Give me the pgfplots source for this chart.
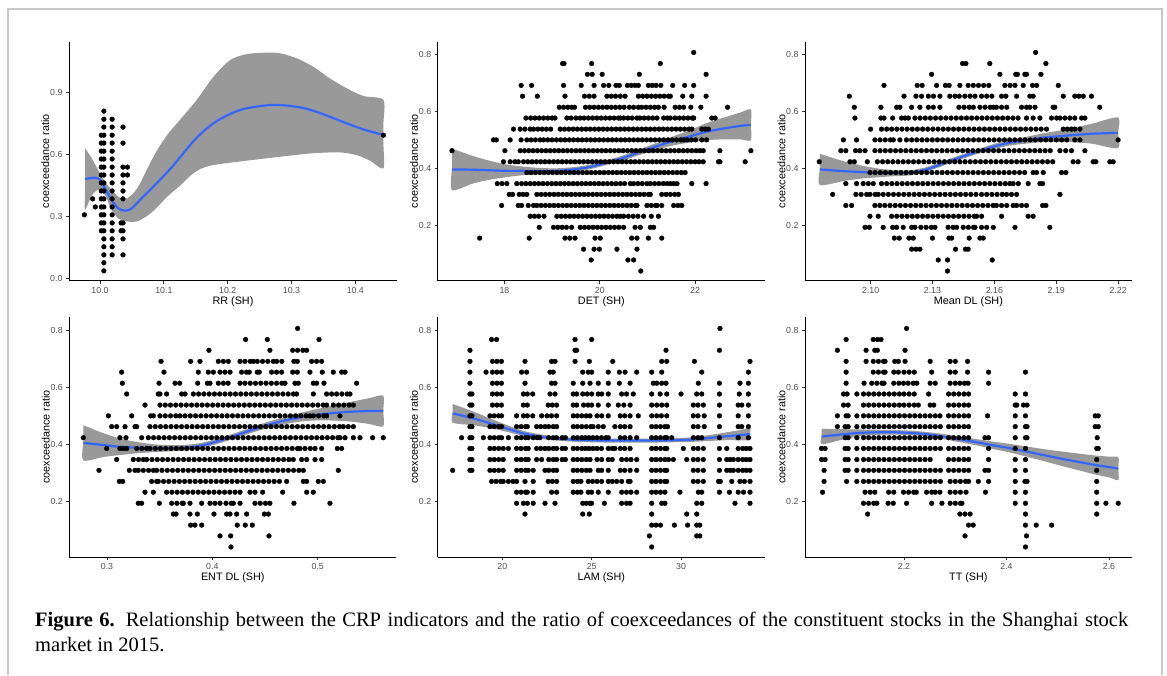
\documentclass[border=0pt]{standalone}
\usepackage{pgfplots}
\pgfplotsset{compat=1.18}
\usepackage{fontspec}
\setmainfont{Liberation Sans}
\newfontfamily\capfont{Liberation Serif}
\definecolor{smoothblue}{HTML}{3366FF}
\definecolor{bandgray}{RGB}{80,80,80}
\definecolor{framegray}{RGB}{200,200,200}
\definecolor{ticktext}{HTML}{4D4D4D}
\definecolor{tickline}{HTML}{333333}
\pgfplotsset{
  panel/.style={
    scale only axis, anchor=south west,
    axis lines*=left, tick pos=left,
    axis line style={line width=0.9pt, black},
    tick align=outside, major tick length=3pt,
    major tick style={line width=0.9pt, tickline},
    tick label style={font=\fontsize{8.8}{10}\selectfont, text=ticktext},
    label style={font=\fontsize{10.8}{12}\selectfont, text=black},
    ylabel={coexceedance ratio},
    ylabel style={at={(axis description cs:-0.072,0.5)}, anchor=center},
    xlabel style={at={(axis description cs:0.5,-0.088)}, anchor=center},
  },
  pts/.style={only marks, mark=*, mark size=2.4pt, black, mark options={line width=0.3pt}, forget plot},
  fit/.style={smoothblue, line width=2.2pt, smooth, no marks, forget plot},
  ciband/.style={fill=bandgray, fill opacity=0.583, draw=none, smooth, tension=0.45, no marks, forget plot},
}
\begin{document}
\begin{tikzpicture}
\path (0,0) rectangle (1167pt,675pt);
\draw[framegray, line width=2pt] (8pt,0pt) -- (8pt,666pt) -- (1162pt,666pt) -- (1162pt,0pt);

% ---------------- RR ----------------
\begin{axis}[panel, at={(69pt,394.3pt)}, width=328pt, height=239pt,
  xmin=9.9514, xmax=10.4653, ymin=-0.0096, ymax=1.1428,
  xtick={10.0,10.1,10.2,10.3,10.4}, xticklabels={10.0,10.1,10.2,10.3,10.4},
  ytick={0,0.3,0.6,0.9}, yticklabels={0.0,0.3,0.6,0.9},
  xlabel={RR (SH)}]
\addplot[pts] coordinates {(10.006,.038)(10.006,.077)(10.006,.115)(10.006,.154)(10.006,.192)(10.006,.231)(10.006,.269)(10.006,.308)(10.006,.346)(10.006,.385)(10.006,.423)(10.006,.462)(10.006,.500)(10.006,.538)(10.006,.577)(10.006,.615)(10.006,.654)(10.006,.692)(10.006,.731)(10.006,.769)(10.006,.808)};
\addplot[pts] coordinates {(10.002,.231)(10.002,.269)(10.002,.308)(10.002,.346)(10.002,.385)(10.002,.423)(10.002,.462)(10.002,.500)(10.002,.538)(10.002,.577)(10.002,.615)(10.002,.654)(10.002,.692)};
\addplot[pts] coordinates {(10.019,.115)(10.019,.154)(10.019,.192)(10.019,.231)(10.019,.269)(10.019,.308)(10.019,.346)(10.019,.385)(10.019,.423)(10.019,.462)(10.019,.500)(10.019,.538)(10.019,.577)(10.019,.615)(10.019,.654)(10.019,.692)(10.019,.731)(10.019,.769)};
\addplot[pts] coordinates {(10.036,.115)(10.036,.192)(10.036,.231)(10.036,.269)(10.036,.385)(10.036,.423)(10.036,.462)(10.036,.500)(10.036,.538)(10.036,.654)(10.036,.731)(10.033,.231)(10.033,.269)(10.043,.500)(10.043,.538)};
\addplot[pts] coordinates {(9.9755,.308)(9.9885,.385)(9.9927,.346)(10.444,.692)};
\addplot[ciband] coordinates {(9.9765,.629)(9.987,.581)(9.997,.524)(10.0078,.468)(10.018,.428)(10.029,.395)(10.039,.384)(10.0497,.404)(10.060,.444)(10.0705,.508)(10.081,.572)(10.0913,.629)(10.107,.70)(10.125,.765)(10.1515,.862)(10.1775,.973)(10.2037,1.054)(10.2298,1.083)(10.2612,1.090)(10.282,1.087)(10.308,1.063)(10.334,1.022)(10.360,.966)(10.3865,.918)(10.4125,.881)(10.444,.862)(10.444,.75)(10.444,.65)(10.444,.532)(10.423,.569)(10.402,.596)(10.376,.609)(10.334,.605)(10.282,.588)(10.2298,.569)(10.1775,.548)(10.1567,.528)(10.141,.495)(10.1253,.448)(10.1123,.415)(10.1018,.385)(10.0913,.350)(10.081,.320)(10.0705,.296)(10.060,.278)(10.0497,.274)(10.039,.278)(10.029,.290)(10.018,.331)(10.0078,.404)(9.997,.428)(9.987,.40)(9.9765,.333)(9.9765,.42)(9.9765,.53)};
\addplot[fit] coordinates {(9.9765,.481)(9.9922,.487)(10.0,.476)(10.0078,.436)(10.0183,.379)(10.0287,.339)(10.0392,.328)(10.0497,.339)(10.0653,.388)(10.0862,.452)(10.1123,.537)(10.1253,.585)(10.1515,.680)(10.1775,.749)(10.2037,.794)(10.2298,.822)(10.2715,.838)(10.308,.829)(10.334,.810)(10.360,.781)(10.3865,.749)(10.4125,.720)(10.444,.693)};
\end{axis}

% ---------------- DET ----------------
\begin{axis}[panel, at={(437.7pt,394.3pt)}, width=327.3pt, height=239pt,
  xmin=16.60, xmax=23.466, ymin=0.004, ymax=0.846,
  xtick={18,20,22}, xticklabels={18,20,22},
  ytick={0.2,0.4,0.6,0.8}, yticklabels={0.2,0.4,0.6,0.8},
  xlabel={DET (SH)}]
\addplot[pts] coordinates {(21.97,.808)};
\addplot[pts] coordinates {(19.22,.769)(19.25,.769)(19.83,.769)(21.27,.769)};
\addplot[pts] coordinates {(19.74,.731)(19.84,.731)(20.05,.731)(20.83,.731)(22.23,.731)};
\addplot[pts] coordinates {(18.35,.692)(18.57,.692)(19.24,.692)(19.61,.692)(19.88,.692)(20.08,.692)(20.19,.692)(20.34,.692)(20.41,.692)(20.58,.692)(20.66,.692)(20.74,.692)(20.81,.692)(21.02,.692)(21.1,.692)(21.18,.692)(21.28,.692)(21.53,.692)(21.78,.692)(21.97,.692)};
\addplot[pts] coordinates {(18.38,.654)(18.69,.654)(19.27,.654)(19.68,.654)(19.78,.654)(19.88,.654)(20.15,.654)(20.24,.654)(20.33,.654)(20.43,.654)(20.53,.654)(20.81,.654)(20.9,.654)(20.99,.654)(21.08,.654)(21.17,.654)(21.26,.654)(21.35,.654)(21.44,.654)(21.48,.654)(21.74,.654)(21.93,.654)(22.23,.654)};
\addplot[pts] coordinates {(19.15,.615)(19.24,.615)(19.33,.615)(19.41,.615)(19.47,.615)(19.7,.615)(19.79,.615)(19.88,.615)(19.97,.615)(20.06,.615)(20.15,.615)(20.24,.615)(20.33,.615)(20.42,.615)(20.51,.615)(20.62,.615)(20.71,.615)(20.81,.615)(20.88,.615)(20.97,.615)(21.06,.615)(21.15,.615)(21.23,.615)(21.35,.615)(21.58,.615)(21.67,.615)(21.76,.615)(21.91,.615)(22.12,.615)(22.68,.615)};
\addplot[pts] coordinates {(18.45,.577)(18.55,.577)(18.64,.577)(18.73,.577)(18.82,.577)(18.91,.577)(19.0,.577)(19.06,.577)(19.31,.577)(19.4,.577)(19.5,.577)(19.59,.577)(19.67,.577)(19.76,.577)(19.85,.577)(19.94,.577)(20.03,.577)(20.12,.577)(20.21,.577)(20.3,.577)(20.39,.577)(20.43,.577)(20.5,.577)(20.59,.577)(20.68,.577)(20.78,.577)(20.84,.577)(20.93,.577)(21.02,.577)(21.11,.577)(21.2,.577)(21.34,.577)(21.42,.577)(21.48,.577)(21.58,.577)(21.67,.577)(21.76,.577)(21.85,.577)(21.94,.577)(21.97,.577)(22.35,.577)(22.42,.577)};
\addplot[pts] coordinates {(18.19,.538)(18.33,.538)(18.43,.538)(18.54,.538)(18.61,.538)(18.7,.538)(18.79,.538)(18.88,.538)(18.97,.538)(19.17,.538)(19.26,.538)(19.35,.538)(19.44,.538)(19.53,.538)(19.62,.538)(19.71,.538)(19.8,.538)(19.89,.538)(19.98,.538)(20.07,.538)(20.16,.538)(20.25,.538)(20.34,.538)(20.43,.538)(20.52,.538)(20.61,.538)(20.7,.538)(20.79,.538)(20.88,.538)(20.97,.538)(21.06,.538)(21.15,.538)(21.24,.538)(21.33,.538)(21.42,.538)(21.51,.538)(21.6,.538)(21.69,.538)(21.78,.538)(21.87,.538)(21.93,.538)(22.14,.538)(22.21,.538)(22.28,.538)};
\addplot[pts] coordinates {(17.77,.500)(17.83,.500)(18.12,.500)(18.35,.500)(18.47,.500)(18.56,.500)(18.65,.500)(18.75,.500)(18.82,.500)(18.91,.500)(19.0,.500)(19.09,.500)(19.18,.500)(19.27,.500)(19.36,.500)(19.45,.500)(19.54,.500)(19.63,.500)(19.72,.500)(19.81,.500)(19.9,.500)(19.99,.500)(20.08,.500)(20.17,.500)(20.26,.500)(20.35,.500)(20.44,.500)(20.53,.500)(20.62,.500)(20.71,.500)(20.8,.500)(20.89,.500)(20.98,.500)(21.07,.500)(21.16,.500)(21.25,.500)(21.34,.500)(21.43,.500)(21.52,.500)(21.61,.500)(21.7,.500)(21.76,.500)(21.83,.500)(21.92,.500)(22.01,.500)(22.14,.500)(22.24,.500)};
\addplot[pts] coordinates {(16.9,.462)(18.01,.462)(18.33,.462)(18.42,.462)(18.51,.462)(18.6,.462)(18.69,.462)(18.78,.462)(18.87,.462)(18.96,.462)(19.05,.462)(19.14,.462)(19.23,.462)(19.32,.462)(19.41,.462)(19.5,.462)(19.59,.462)(19.68,.462)(19.77,.462)(19.86,.462)(19.95,.462)(20.04,.462)(20.13,.462)(20.22,.462)(20.31,.462)(20.4,.462)(20.49,.462)(20.58,.462)(20.67,.462)(20.76,.462)(20.85,.462)(20.94,.462)(21.03,.462)(21.12,.462)(21.21,.462)(21.3,.462)(21.39,.462)(21.48,.462)(21.57,.462)(21.66,.462)(21.75,.462)(21.84,.462)(21.93,.462)(22.02,.462)(22.1,.462)(22.17,.462)(22.52,.462)(23.17,.462)};
\addplot[pts] coordinates {(17.98,.423)(18.12,.423)(18.22,.423)(18.29,.423)(18.40,.423)(18.49,.423)(18.58,.423)(18.67,.423)(18.76,.423)(18.85,.423)(18.94,.423)(19.03,.423)(19.12,.423)(19.21,.423)(19.30,.423)(19.39,.423)(19.48,.423)(19.57,.423)(19.66,.423)(19.75,.423)(19.84,.423)(19.93,.423)(20.02,.423)(20.11,.423)(20.20,.423)(20.29,.423)(20.38,.423)(20.47,.423)(20.56,.423)(20.65,.423)(20.74,.423)(20.83,.423)(20.92,.423)(21.01,.423)(21.10,.423)(21.19,.423)(21.28,.423)(21.37,.423)(21.46,.423)(21.55,.423)(21.64,.423)(21.73,.423)(21.82,.423)(21.91,.423)(22.0,.423)(22.08,.423)(22.17,.423)(22.49,.423)(22.52,.423)(23.05,.423)};
\addplot[pts] coordinates {(18.47,.385)(18.56,.385)(18.65,.385)(18.74,.385)(18.83,.385)(18.92,.385)(19.01,.385)(19.10,.385)(19.19,.385)(19.28,.385)(19.37,.385)(19.46,.385)(19.55,.385)(19.64,.385)(19.73,.385)(19.82,.385)(19.91,.385)(20.0,.385)(20.09,.385)(20.18,.385)(20.27,.385)(20.36,.385)(20.45,.385)(20.54,.385)(20.63,.385)(20.72,.385)(20.81,.385)(20.9,.385)(20.99,.385)(21.08,.385)(21.17,.385)(21.26,.385)(21.35,.385)(21.44,.385)(21.53,.385)(21.62,.385)(21.71,.385)(21.79,.385)};
\addplot[pts] coordinates {(17.85,.346)(17.95,.346)(18.05,.346)(18.26,.346)(18.36,.346)(18.45,.346)(18.54,.346)(18.63,.346)(18.72,.346)(18.81,.346)(18.9,.346)(18.99,.346)(19.08,.346)(19.17,.346)(19.26,.346)(19.35,.346)(19.44,.346)(19.53,.346)(19.62,.346)(19.71,.346)(19.8,.346)(19.89,.346)(19.98,.346)(20.07,.346)(20.16,.346)(20.25,.346)(20.34,.346)(20.43,.346)(20.52,.346)(20.64,.346)(20.71,.346)(20.8,.346)(20.89,.346)(20.99,.346)(21.06,.346)(21.15,.346)(21.24,.346)(21.33,.346)(21.41,.346)(21.48,.346)(21.55,.346)(21.62,.346)(21.93,.346)(22.23,.346)};
\addplot[pts] coordinates {(18.1,.308)(18.17,.308)(18.31,.308)(18.39,.308)(18.47,.308)(18.68,.308)(18.77,.308)(18.86,.308)(18.95,.308)(19.04,.308)(19.13,.308)(19.22,.308)(19.31,.308)(19.4,.308)(19.49,.308)(19.58,.308)(19.67,.308)(19.76,.308)(19.85,.308)(19.94,.308)(20.03,.308)(20.12,.308)(20.21,.308)(20.3,.308)(20.39,.308)(20.48,.308)(20.57,.308)(20.66,.308)(20.75,.308)(20.84,.308)(20.93,.308)(21.02,.308)(21.06,.308)(21.3,.308)(21.39,.308)(21.48,.308)(21.57,.308)(21.65,.308)};
\addplot[pts] coordinates {(17.94,.269)(18.29,.269)(18.36,.269)(18.5,.269)(18.61,.269)(18.68,.269)(18.77,.269)(18.86,.269)(18.95,.269)(19.04,.269)(19.13,.269)(19.22,.269)(19.31,.269)(19.4,.269)(19.49,.269)(19.58,.269)(19.67,.269)(19.76,.269)(19.85,.269)(19.94,.269)(20.03,.269)(20.12,.269)(20.21,.269)(20.3,.269)(20.39,.269)(20.48,.269)(20.57,.269)(20.66,.269)(20.75,.269)(20.78,.269)(20.99,.269)(21.08,.269)(21.17,.269)(21.2,.269)(21.3,.269)(21.55,.269)(21.64,.269)(21.72,.269)};
\addplot[pts] coordinates {(18.54,.231)(18.63,.231)(18.72,.231)(18.83,.231)(19.1,.231)(19.19,.231)(19.28,.231)(19.37,.231)(19.46,.231)(19.55,.231)(19.64,.231)(19.73,.231)(19.82,.231)(19.91,.231)(20.0,.231)(20.09,.231)(20.18,.231)(20.27,.231)(20.36,.231)(20.43,.231)(20.5,.231)(20.6,.231)(20.7,.231)(20.8,.231)(20.92,.231)(21.08,.231)(21.23,.231)};
\addplot[pts] coordinates {(18.73,.192)(19.03,.192)(19.12,.192)(19.21,.192)(19.3,.192)(19.41,.192)(19.59,.192)(19.68,.192)(19.77,.192)(19.86,.192)(19.95,.192)(20.04,.192)(20.13,.192)(20.22,.192)(20.31,.192)(20.4,.192)(20.5,.192)(20.74,.192)(20.85,.192)(21.06,.192)(21.13,.192)};
\addplot[pts] coordinates {(17.48,.154)(18.52,.154)(19.27,.154)(19.37,.154)(19.48,.154)(19.9,.154)(20.01,.154)(20.67,.154)(20.78,.154)(21.02,.154)(21.3,.154)};
\addplot[pts] coordinates {(19.66,.115)(19.88,.115)(19.99,.115)(20.36,.115)(20.78,.115)(19.82,.077)(20.59,.077)(20.71,.077)(20.86,.038)};
\addplot[ciband] coordinates {(16.9,.469)(17.35,.443)(17.7,.426)(18.05,.413)(18.4,.406)(18.75,.401)(19.1,.400)(19.45,.404)(19.8,.413)(20.15,.428)(20.5,.446)(20.85,.468)(21.2,.490)(21.55,.513)(21.9,.535)(22.24,.559)(22.59,.578)(22.94,.596)(23.17,.607)(23.17,.553)(23.17,.499)(22.94,.502)(22.59,.502)(22.24,.499)(21.9,.491)(21.55,.481)(21.2,.466)(20.85,.448)(20.5,.428)(20.15,.412)(19.8,.397)(19.45,.388)(19.1,.382)(18.75,.379)(18.4,.376)(18.05,.369)(17.7,.360)(17.35,.347)(16.9,.323)(16.9,.396)};
\addplot[fit] coordinates {(16.9,.396)(17.35,.395)(17.7,.393)(18.05,.391)(18.4,.391)(18.75,.390)(19.1,.391)(19.45,.396)(19.8,.405)(20.15,.420)(20.5,.437)(20.85,.458)(21.2,.478)(21.55,.497)(21.9,.513)(22.24,.529)(22.59,.540)(22.94,.549)(23.17,.553)};
\end{axis}

% ---------------- Mean DL ----------------
\begin{axis}[panel, at={(805pt,394.3pt)}, width=326.7pt, height=239pt,
  xmin=2.0682, xmax=2.2266, ymin=0.004, ymax=0.846,
  xtick={2.10,2.13,2.16,2.19,2.22}, xticklabels={2.10,2.13,2.16,2.19,2.22},
  ytick={0.2,0.4,0.6,0.8}, yticklabels={0.2,0.4,0.6,0.8},
  xlabel={Mean DL (SH)}]
\addplot[pts] coordinates {(2.18,.808)(2.1446,.769)(2.1462,.769)(2.1578,.769)(2.185,.769)};
\addplot[pts] coordinates {(2.1296,.731)(2.1627,.731)(2.1704,.731)(2.1712,.731)(2.1748,.731)(2.1756,.731)(2.1826,.731)};
\addplot[pts] coordinates {(2.1065,.692)(2.1226,.692)(2.125,.692)(2.132,.692)(2.1363,.692)(2.1381,.692)(2.1433,.692)(2.1473,.692)(2.1498,.692)(2.1523,.692)(2.1548,.692)(2.1573,.692)(2.1651,.692)(2.1676,.692)(2.17,.692)(2.174,.692)(2.1785,.692)(2.1805,.692)(2.191,.692)};
\addplot[pts] coordinates {(2.0897,.654)(2.1162,.654)(2.122,.654)(2.1247,.654)(2.128,.654)(2.1305,.654)(2.1336,.654)(2.1384,.654)(2.1409,.654)(2.143,.654)(2.1457,.654)(2.1482,.654)(2.1506,.654)(2.1538,.654)(2.1563,.654)(2.1588,.654)(2.1635,.654)(2.1656,.654)(2.1708,.654)(2.1772,.654)(2.1788,.654)(2.1934,.654)(2.199,.654)(2.201,.654)(2.2031,.654)(2.2071,.654)};
\addplot[pts] coordinates {(2.0921,.615)(2.105,.615)(2.1126,.615)(2.1142,.615)(2.1199,.615)(2.1239,.615)(2.128,.615)(2.1304,.615)(2.1336,.615)(2.1428,.615)(2.1453,.615)(2.1478,.615)(2.1498,.615)(2.153,.615)(2.1555,.615)(2.158,.615)(2.1595,.615)(2.161,.615)(2.1635,.615)(2.166,.615)(2.1732,.615)(2.1756,.615)(2.1772,.615)(2.1797,.615)(2.1885,.615)(2.1893,.615)(2.2111,.615)};
\addplot[pts] coordinates {(2.0924,.577)(2.105,.577)(2.1065,.577)(2.1107,.577)(2.115,.577)(2.1167,.577)(2.1183,.577)(2.1215,.577)(2.124,.577)(2.1265,.577)(2.129,.577)(2.1315,.577)(2.134,.577)(2.1365,.577)(2.139,.577)(2.1415,.577)(2.144,.577)(2.1465,.577)(2.149,.577)(2.1515,.577)(2.154,.577)(2.1565,.577)(2.159,.577)(2.1615,.577)(2.164,.577)(2.1665,.577)(2.169,.577)(2.1715,.577)(2.1756,.577)(2.1788,.577)(2.1821,.577)(2.1877,.577)(2.1902,.577)(2.1918,.577)(2.1942,.577)(2.1966,.577)(2.199,.577)(2.2023,.577)(2.2039,.577)};
\addplot[pts] coordinates {(2.1,.538)(2.1053,.538)(2.1078,.538)(2.1102,.538)(2.1127,.538)(2.1152,.538)(2.1177,.538)(2.1202,.538)(2.1227,.538)(2.1252,.538)(2.1277,.538)(2.1302,.538)(2.1327,.538)(2.1352,.538)(2.1377,.538)(2.1402,.538)(2.1427,.538)(2.1452,.538)(2.1477,.538)(2.1502,.538)(2.1527,.538)(2.1552,.538)(2.1577,.538)(2.1602,.538)(2.1627,.538)(2.1652,.538)(2.1677,.538)(2.1702,.538)(2.1727,.538)(2.1752,.538)(2.1777,.538)(2.1802,.538)(2.1827,.538)(2.1853,.538)(2.1934,.538)(2.1954,.538)(2.1974,.538)(2.199,.538)(2.2015,.538)};
\addplot[pts] coordinates {(2.0868,.500)(2.0932,.500)(2.1021,.500)(2.1046,.500)(2.1071,.500)(2.1096,.500)(2.111,.500)(2.1142,.500)(2.1174,.500)(2.1199,.500)(2.1224,.500)(2.1249,.500)(2.1274,.500)(2.1299,.500)(2.1324,.500)(2.1349,.500)(2.1374,.500)(2.1399,.500)(2.1424,.500)(2.1449,.500)(2.1474,.500)(2.1499,.500)(2.1524,.500)(2.1549,.500)(2.1574,.500)(2.1599,.500)(2.1624,.500)(2.1649,.500)(2.1674,.500)(2.1699,.500)(2.1724,.500)(2.1749,.500)(2.1774,.500)(2.1799,.500)(2.1824,.500)(2.1849,.500)(2.1874,.500)(2.1901,.500)(2.1926,.500)(2.1951,.500)(2.199,.500)(2.2015,.500)(2.22,.500)};
\addplot[pts] coordinates {(2.0856,.462)(2.088,.462)(2.0927,.462)(2.0948,.462)(2.0973,.462)(2.1021,.462)(2.1046,.462)(2.1071,.462)(2.1096,.462)(2.1121,.462)(2.1146,.462)(2.1171,.462)(2.1196,.462)(2.1221,.462)(2.1246,.462)(2.1271,.462)(2.1296,.462)(2.1321,.462)(2.1346,.462)(2.1371,.462)(2.1396,.462)(2.1421,.462)(2.1446,.462)(2.1471,.462)(2.1496,.462)(2.1521,.462)(2.1546,.462)(2.1571,.462)(2.1596,.462)(2.1621,.462)(2.1646,.462)(2.1671,.462)(2.1696,.462)(2.1721,.462)(2.1746,.462)(2.1771,.462)(2.1796,.462)(2.1821,.462)(2.1846,.462)(2.1871,.462)(2.1918,.462)(2.1946,.462)(2.1974,.462)(2.2039,.462)};
\addplot[pts] coordinates {(2.0751,.423)(2.09,.423)(2.0921,.423)(2.0984,.423)(2.1033,.423)(2.1058,.423)(2.1083,.423)(2.1108,.423)(2.1133,.423)(2.1158,.423)(2.1183,.423)(2.1208,.423)(2.1233,.423)(2.1258,.423)(2.1283,.423)(2.1308,.423)(2.1333,.423)(2.1358,.423)(2.1383,.423)(2.1408,.423)(2.1433,.423)(2.1458,.423)(2.1483,.423)(2.1508,.423)(2.1533,.423)(2.1558,.423)(2.1583,.423)(2.1608,.423)(2.1633,.423)(2.1658,.423)(2.1683,.423)(2.1708,.423)(2.1733,.423)(2.1758,.423)(2.1783,.423)(2.1808,.423)(2.1833,.423)(2.1858,.423)(2.1883,.423)(2.1982,.423)(2.2006,.423)(2.2079,.423)(2.2092,.423)(2.216,.423)(2.2176,.423)};
\addplot[pts] coordinates {(2.0997,.385)(2.1022,.385)(2.1047,.385)(2.1072,.385)(2.1097,.385)(2.1122,.385)(2.1147,.385)(2.1172,.385)(2.1197,.385)(2.1222,.385)(2.1247,.385)(2.1272,.385)(2.1297,.385)(2.1322,.385)(2.1347,.385)(2.1372,.385)(2.1397,.385)(2.1422,.385)(2.1447,.385)(2.1472,.385)(2.1497,.385)(2.1522,.385)(2.1547,.385)(2.1572,.385)(2.1597,.385)(2.1622,.385)(2.1647,.385)(2.1672,.385)(2.1697,.385)(2.1722,.385)(2.1747,.385)(2.1788,.385)(2.1805,.385)(2.1837,.385)(2.1926,.385)(2.1947,.385)};
\addplot[pts] coordinates {(2.088,.346)(2.0932,.346)(2.0964,.346)(2.0989,.346)(2.1013,.346)(2.1053,.346)(2.1078,.346)(2.1103,.346)(2.1128,.346)(2.1153,.346)(2.1178,.346)(2.1203,.346)(2.1228,.346)(2.1253,.346)(2.1278,.346)(2.1303,.346)(2.1328,.346)(2.1353,.346)(2.1378,.346)(2.1403,.346)(2.1428,.346)(2.1453,.346)(2.1478,.346)(2.1503,.346)(2.1528,.346)(2.1553,.346)(2.1578,.346)(2.1603,.346)(2.1628,.346)(2.1653,.346)(2.1675,.346)(2.1691,.346)(2.1716,.346)(2.1764,.346)(2.1821,.346)(2.1834,.346)};
\addplot[pts] coordinates {(2.0816,.308)(2.0929,.308)(2.0954,.308)(2.0981,.308)(2.0997,.308)(2.1022,.308)(2.1037,.308)(2.1061,.308)(2.1086,.308)(2.1111,.308)(2.1136,.308)(2.1161,.308)(2.1186,.308)(2.1211,.308)(2.1236,.308)(2.1261,.308)(2.1286,.308)(2.1311,.308)(2.1336,.308)(2.1361,.308)(2.1386,.308)(2.1411,.308)(2.1436,.308)(2.1461,.308)(2.1486,.308)(2.1511,.308)(2.1538,.308)(2.1563,.308)(2.1588,.308)(2.1613,.308)(2.1638,.308)(2.1659,.308)(2.1683,.308)(2.1708,.308)(2.1918,.308)};
\addplot[pts] coordinates {(2.088,.269)(2.0908,.269)(2.1021,.269)(2.1045,.269)(2.1069,.269)(2.1094,.269)(2.1119,.269)(2.1144,.269)(2.1169,.269)(2.1194,.269)(2.1219,.269)(2.1244,.269)(2.1269,.269)(2.1294,.269)(2.1319,.269)(2.1344,.269)(2.1369,.269)(2.1394,.269)(2.1419,.269)(2.1444,.269)(2.1469,.269)(2.1494,.269)(2.1519,.269)(2.1544,.269)(2.1569,.269)(2.1594,.269)(2.161,.269)(2.1635,.269)(2.166,.269)(2.1691,.269)(2.1708,.269)(2.1732,.269)(2.1756,.269)(2.1834,.269)(2.185,.269)};
\addplot[pts] coordinates {(2.0997,.231)(2.1037,.231)(2.1102,.231)(2.1127,.231)(2.1152,.231)(2.1177,.231)(2.1202,.231)(2.1227,.231)(2.1252,.231)(2.1277,.231)(2.1302,.231)(2.1327,.231)(2.1352,.231)(2.1377,.231)(2.1402,.231)(2.1427,.231)(2.1452,.231)(2.1477,.231)(2.1502,.231)(2.1514,.231)(2.1538,.231)(2.1635,.231)(2.1764,.231)(2.1788,.231)};
\addplot[pts] coordinates {(2.0973,.192)(2.0994,.192)(2.1061,.192)(2.1107,.192)(2.1126,.192)(2.1158,.192)(2.1199,.192)(2.1215,.192)(2.1244,.192)(2.1269,.192)(2.1294,.192)(2.1312,.192)(2.1376,.192)(2.14,.192)(2.1417,.192)(2.1449,.192)(2.1474,.192)(2.1499,.192)(2.1506,.192)(2.1538,.192)(2.1563,.192)(2.1595,.192)(2.17,.192)(2.1869,.192)};
\addplot[pts] coordinates {(2.1115,.154)(2.1139,.154)(2.1186,.154)(2.1207,.154)(2.13,.154)(2.138,.154)(2.1393,.154)(2.1478,.154)(2.153,.154)(2.1546,.154)(2.1199,.115)(2.122,.115)(2.1239,.115)(2.1412,.115)(2.146,.115)(2.1473,.115)(2.1328,.077)(2.1373,.077)(2.159,.077)(2.1373,.038)};
\addplot[ciband] coordinates {(2.0754,.451)(2.0868,.425)(2.0948,.411)(2.1029,.400)(2.111,.394)(2.1191,.393)(2.1271,.404)(2.1352,.425)(2.1433,.446)(2.1514,.466)(2.1595,.485)(2.1675,.500)(2.1756,.511)(2.1837,.523)(2.1918,.533)(2.1998,.545)(2.2079,.558)(2.22,.579)(2.22,.525)(2.22,.471)(2.2079,.486)(2.1998,.491)(2.1918,.493)(2.1837,.493)(2.1756,.487)(2.1675,.480)(2.1595,.467)(2.1514,.450)(2.1433,.430)(2.1352,.409)(2.1271,.388)(2.1191,.375)(2.111,.372)(2.1029,.368)(2.0948,.363)(2.0868,.355)(2.0754,.341)(2.0754,.396)};
\addplot[fit] coordinates {(2.0754,.396)(2.0868,.390)(2.0948,.387)(2.1029,.384)(2.111,.383)(2.1191,.384)(2.1271,.396)(2.1352,.417)(2.1433,.438)(2.1514,.458)(2.1595,.476)(2.1675,.490)(2.1756,.499)(2.1837,.508)(2.1918,.513)(2.1998,.518)(2.2079,.522)(2.216,.524)(2.22,.525)};
\end{axis}

% ---------------- ENT DL ----------------
\begin{axis}[panel, at={(69.3pt,118pt)}, width=327pt, height=240.3pt,
  xmin=0.2642, xmax=0.5747, ymin=0.0027, ymax=0.8494,
  xtick={0.3,0.4,0.5}, xticklabels={0.3,0.4,0.5},
  ytick={0.2,0.4,0.6,0.8}, yticklabels={0.2,0.4,0.6,0.8},
  xlabel={ENT DL (SH)}]
\addplot[pts] coordinates {(.481,.808)(.4316,.769)(.4522,.769)(.5013,.769)(.3968,.731)(.4547,.731)(.4763,.731)(.481,.731)(.486,.731)(.4896,.731)};
\addplot[pts] coordinates {(.3513,.692)(.3794,.692)(.3883,.692)(.4057,.692)(.4105,.692)(.4152,.692)(.4263,.692)(.431,.692)(.436,.692)(.4389,.692)(.4427,.692)(.4477,.692)(.4527,.692)(.4579,.692)(.4611,.692)(.466,.692)(.4775,.692)(.4807,.692)(.4943,.692)(.499,.692)(.5038,.692)};
\addplot[pts] coordinates {(.3139,.654)(.3541,.654)(.3867,.654)(.3962,.654)(.401,.654)(.4073,.654)(.412,.654)(.4168,.654)(.4278,.654)(.4325,.654)(.4351,.654)(.4427,.654)(.4446,.654)(.4563,.654)(.461,.654)(.4658,.654)(.4763,.654)(.4807,.654)(.4927,.654)(.5044,.654)(.5149,.654)(.5228,.654)(.526,.654)};
\addplot[pts] coordinates {(.3146,.615)(.3494,.615)(.3646,.615)(.369,.615)(.3861,.615)(.3953,.615)(.3978,.615)(.4057,.615)(.4105,.615)(.415,.615)(.4263,.615)(.431,.615)(.436,.615)(.441,.615)(.446,.615)(.451,.615)(.456,.615)(.461,.615)(.466,.615)(.469,.615)(.4785,.615)(.4816,.615)(.4959,.615)(.499,.615)(.506,.615)(.537,.615)};
\addplot[pts] coordinates {(.3187,.577)(.3487,.577)(.3503,.577)(.3566,.577)(.3709,.577)(.3741,.577)(.382,.577)(.387,.577)(.392,.577)(.397,.577)(.402,.577)(.407,.577)(.412,.577)(.417,.577)(.422,.577)(.427,.577)(.432,.577)(.437,.577)(.442,.577)(.447,.577)(.452,.577)(.457,.577)(.462,.577)(.467,.577)(.472,.577)(.477,.577)(.48,.577)(.4959,.577)(.5085,.577)(.5133,.577)(.518,.577)(.523,.577)(.528,.577)(.5307,.577)};
\addplot[pts] coordinates {(.3361,.538)(.3503,.538)(.3553,.538)(.3603,.538)(.3653,.538)(.3703,.538)(.3753,.538)(.3803,.538)(.3853,.538)(.3903,.538)(.3953,.538)(.4003,.538)(.4053,.538)(.4103,.538)(.4153,.538)(.4203,.538)(.4253,.538)(.4303,.538)(.4353,.538)(.4403,.538)(.4453,.538)(.4503,.538)(.4553,.538)(.4603,.538)(.4653,.538)(.4703,.538)(.4753,.538)(.4803,.538)(.4853,.538)(.4903,.538)(.4953,.538)(.5003,.538)(.5053,.538)(.5085,.538)(.5149,.538)(.5199,.538)(.5249,.538)(.5299,.538)(.5339,.538)};
\addplot[pts] coordinates {(.3013,.500)(.3234,.500)(.3415,.500)(.344,.500)(.3503,.500)(.3553,.500)(.3603,.500)(.3653,.500)(.3693,.500)(.3741,.500)(.3791,.500)(.3841,.500)(.3891,.500)(.3941,.500)(.3991,.500)(.4041,.500)(.4091,.500)(.4141,.500)(.4191,.500)(.4241,.500)(.4291,.500)(.4341,.500)(.4391,.500)(.4441,.500)(.4491,.500)(.4541,.500)(.4591,.500)(.4641,.500)(.4691,.500)(.4741,.500)(.4791,.500)(.4841,.500)(.4891,.500)(.4927,.500)(.4959,.500)(.5009,.500)(.5059,.500)(.5085,.500)(.5212,.500)};
\addplot[pts] coordinates {(.3044,.462)(.3092,.462)(.3171,.462)(.3266,.462)(.3282,.462)(.3408,.462)(.3458,.462)(.3508,.462)(.3558,.462)(.3608,.462)(.3658,.462)(.3708,.462)(.3758,.462)(.3808,.462)(.3858,.462)(.3908,.462)(.3958,.462)(.4008,.462)(.4058,.462)(.4108,.462)(.4158,.462)(.4208,.462)(.4258,.462)(.4308,.462)(.4358,.462)(.4408,.462)(.4458,.462)(.4508,.462)(.4558,.462)(.4608,.462)(.4658,.462)(.4708,.462)(.4758,.462)(.4808,.462)(.4858,.462)(.4908,.462)(.4958,.462)(.5008,.462)(.5058,.462)(.5108,.462)(.5158,.462)(.5208,.462)(.5244,.462)(.5291,.462)(.5339,.462)};
\addplot[pts] coordinates {(.2775,.423)(.3123,.423)(.318,.423)(.3329,.423)(.3392,.423)(.3442,.423)(.3492,.423)(.3542,.423)(.3592,.423)(.3642,.423)(.3692,.423)(.3742,.423)(.3792,.423)(.3842,.423)(.3892,.423)(.3942,.423)(.3992,.423)(.4042,.423)(.4092,.423)(.4142,.423)(.4192,.423)(.4242,.423)(.4292,.423)(.4342,.423)(.4392,.423)(.4442,.423)(.4492,.423)(.4542,.423)(.4592,.423)(.4642,.423)(.4692,.423)(.4742,.423)(.4792,.423)(.4842,.423)(.4892,.423)(.4942,.423)(.4992,.423)(.5042,.423)(.5092,.423)(.5142,.423)(.5192,.423)(.5212,.423)(.5260,.423)(.5339,.423)(.5402,.423)(.5522,.423)(.5623,.423)};
\addplot[pts] coordinates {(.2997,.385)(.3123,.385)(.3155,.385)(.3187,.385)(.3282,.385)(.333,.385)(.3377,.385)(.3408,.385)(.3458,.385)(.3508,.385)(.3558,.385)(.3608,.385)(.3658,.385)(.3708,.385)(.3758,.385)(.3808,.385)(.3858,.385)(.3908,.385)(.3958,.385)(.4008,.385)(.4058,.385)(.4108,.385)(.4158,.385)(.4208,.385)(.4258,.385)(.4308,.385)(.4358,.385)(.4408,.385)(.4458,.385)(.4508,.385)(.4558,.385)(.4608,.385)(.4658,.385)(.4708,.385)(.4758,.385)(.4808,.385)(.4832,.385)(.488,.385)(.493,.385)(.4975,.385)(.5038,.385)(.5187,.385)(.5228,.385)};
\addplot[pts] coordinates {(.3092,.346)(.325,.346)(.33,.346)(.3345,.346)(.3377,.346)(.3427,.346)(.3477,.346)(.3527,.346)(.3577,.346)(.3627,.346)(.3677,.346)(.3727,.346)(.3777,.346)(.3827,.346)(.3877,.346)(.3927,.346)(.3977,.346)(.4027,.346)(.4077,.346)(.4127,.346)(.4177,.346)(.4227,.346)(.4277,.346)(.4327,.346)(.4377,.346)(.4427,.346)(.4477,.346)(.4527,.346)(.4577,.346)(.4627,.346)(.4677,.346)(.4727,.346)(.4769,.346)(.4848,.346)(.4896,.346)(.4975,.346)(.5038,.346)};
\addplot[pts] coordinates {(.2924,.308)(.3212,.308)(.3266,.308)(.3297,.308)(.3345,.308)(.3395,.308)(.344,.308)(.3472,.308)(.3522,.308)(.3572,.308)(.3622,.308)(.3672,.308)(.3722,.308)(.3772,.308)(.3822,.308)(.3872,.308)(.3922,.308)(.3972,.308)(.4022,.308)(.4072,.308)(.4122,.308)(.4172,.308)(.4222,.308)(.4272,.308)(.4322,.308)(.4372,.308)(.4422,.308)(.4472,.308)(.4522,.308)(.4572,.308)(.4622,.308)(.4672,.308)(.4722,.308)(.4772,.308)(.4822,.308)(.4864,.308)(.5196,.308)};
\addplot[pts] coordinates {(.3117,.269)(.3149,.269)(.3424,.269)(.3472,.269)(.3487,.269)(.3537,.269)(.3587,.269)(.3637,.269)(.3687,.269)(.3737,.269)(.3787,.269)(.3837,.269)(.3887,.269)(.3937,.269)(.3987,.269)(.4037,.269)(.4087,.269)(.4137,.269)(.4187,.269)(.4237,.269)(.4287,.269)(.4337,.269)(.4387,.269)(.4437,.269)(.4487,.269)(.4537,.269)(.4587,.269)(.4637,.269)(.4706,.269)(.4864,.269)(.4896,.269)(.5006,.269)(.5054,.269)};
\addplot[pts] coordinates {(.3361,.231)(.344,.231)(.3566,.231)(.3616,.231)(.3666,.231)(.3716,.231)(.3766,.231)(.3816,.231)(.3866,.231)(.3916,.231)(.3966,.231)(.4016,.231)(.4066,.231)(.4116,.231)(.4166,.231)(.4216,.231)(.4263,.231)(.4358,.231)(.4405,.231)(.4478,.231)(.4668,.231)(.4896,.231)(.4959,.231)};
\addplot[pts] coordinates {(.3297,.192)(.3329,.192)(.3497,.192)(.3614,.192)(.3664,.192)(.3714,.192)(.3725,.192)(.3788,.192)(.3899,.192)(.3978,.192)(.4025,.192)(.4073,.192)(.413,.192)(.418,.192)(.42,.192)(.4263,.192)(.4405,.192)(.4455,.192)(.4505,.192)(.4547,.192)(.4775,.192)(.5117,.192)};
\addplot[pts] coordinates {(.363,.154)(.3655,.154)(.3788,.154)(.3858,.154)(.4016,.154)(.4136,.154)(.4168,.154)(.4231,.154)(.4326,.154)(.4494,.154)(.4532,.154)(.3794,.115)(.3835,.115)(.3899,.115)(.4237,.115)(.4313,.115)(.438,.115)(.4073,.077)(.4174,.077)(.4538,.077)(.4177,.038)};
\addplot[ciband] coordinates {(.2775,.467)(.2965,.439)(.3123,.420)(.3282,.408)(.344,.400)(.3598,.397)(.3756,.398)(.3915,.406)(.4073,.422)(.4231,.441)(.4389,.462)(.4547,.481)(.4706,.498)(.4864,.513)(.5022,.526)(.518,.539)(.5339,.551)(.5497,.563)(.5623,.571)(.5623,.517)(.5623,.463)(.5497,.471)(.5339,.479)(.518,.483)(.5022,.484)(.4864,.481)(.4706,.472)(.4547,.459)(.4389,.442)(.4231,.423)(.4073,.404)(.3915,.388)(.3756,.378)(.3598,.375)(.344,.372)(.3282,.368)(.3123,.362)(.2965,.355)(.2775,.343)(.2775,.405)};
\addplot[fit] coordinates {(.2775,.405)(.2965,.397)(.3123,.391)(.3282,.388)(.344,.386)(.3598,.386)(.3756,.388)(.3915,.397)(.4073,.413)(.4231,.432)(.4389,.452)(.4547,.470)(.4706,.485)(.4864,.497)(.5022,.505)(.518,.511)(.5339,.515)(.5497,.517)(.5623,.517)};
\end{axis}

% ---------------- LAM ----------------
\begin{axis}[panel, at={(437.7pt,118pt)}, width=327.3pt, height=240.3pt,
  xmin=16.385, xmax=34.70, ymin=0.0027, ymax=0.8494,
  xtick={20,25,30}, xticklabels={20,25,30},
  ytick={0.2,0.4,0.6,0.8}, yticklabels={0.2,0.4,0.6,0.8},
  xlabel={LAM (SH)}]
\addplot[pts] coordinates {(32.18,.808)(19.40,.769)(19.68,.769)(24.07,.769)(25.0,.769)(18.19,.731)(24.07,.731)(24.16,.731)(29.16,.731)(32.15,.731)};
\addplot[pts] coordinates {(18.19,.692)(19.45,.692)(19.7,.692)(19.95,.692)(21.27,.692)(22.76,.692)(22.95,.692)(24.07,.692)(24.87,.692)(26.18,.692)(28.92,.692)(29.2,.692)(30.75,.692)(33.86,.692)};
\addplot[pts] coordinates {(18.19,.654)(19.09,.654)(19.45,.654)(19.7,.654)(19.95,.654)(21.08,.654)(21.36,.654)(22.67,.654)(22.85,.654)(24.5,.654)(24.81,.654)(25.0,.654)(25.93,.654)(26.55,.654)(26.87,.654)(27.52,.654)(28.36,.654)(28.92,.654)(31.16,.654)(33.77,.654)};
\addplot[pts] coordinates {(18.19,.615)(19.45,.615)(19.7,.615)(19.95,.615)(21.27,.615)(22.76,.615)(22.95,.615)(23.97,.615)(24.5,.615)(24.91,.615)(25.37,.615)(25.93,.615)(26.55,.615)(27.15,.615)(28.45,.615)(28.64,.615)(28.92,.615)(29.16,.615)(30.97,.615)(32.15,.615)(33.3,.615)(33.77,.615)};
\addplot[pts] coordinates {(18.19,.577)(18.3,.577)(19.45,.577)(19.7,.577)(19.95,.577)(21.18,.577)(21.4,.577)(21.7,.577)(22.67,.577)(22.95,.577)(23.97,.577)(24.16,.577)(24.5,.577)(24.75,.577)(25.0,.577)(25.37,.577)(25.56,.577)(25.93,.577)(26.68,.577)(26.95,.577)(27.33,.577)(28.36,.577)(28.83,.577)(29.2,.577)(30.0,.577)(30.88,.577)(31.16,.577)(32.15,.577)(33.26,.577)(33.77,.577)};
\addplot[pts] coordinates {(18.19,.538)(18.3,.538)(19.45,.538)(19.7,.538)(19.95,.538)(21.18,.538)(21.4,.538)(22.57,.538)(22.8,.538)(23.04,.538)(23.97,.538)(24.16,.538)(24.55,.538)(24.8,.538)(25.0,.538)(25.37,.538)(25.93,.538)(26.49,.538)(26.8,.538)(27.15,.538)(28.36,.538)(28.64,.538)(28.92,.538)(29.2,.538)(30.69,.538)(30.95,.538)(31.25,.538)(32.15,.538)(33.2,.538)(33.4,.538)(33.77,.538)};
\addplot[pts] coordinates {(18.19,.500)(18.3,.500)(19.31,.500)(19.55,.500)(19.8,.500)(19.96,.500)(20.8,.500)(21.18,.500)(21.4,.500)(21.7,.500)(22.2,.500)(22.5,.500)(22.75,.500)(23.04,.500)(23.97,.500)(24.2,.500)(24.45,.500)(24.7,.500)(24.91,.500)(25.3,.500)(25.56,.500)(25.93,.500)(26.6,.500)(26.85,.500)(27.15,.500)(27.61,.500)(28.36,.500)(28.64,.500)(28.9,.500)(29.2,.500)(30.69,.500)(30.95,.500)(31.3,.500)(32.15,.500)(33.2,.500)(33.77,.500)};
\addplot[pts] coordinates {(18.19,.462)(18.3,.462)(19.31,.462)(19.55,.462)(19.8,.462)(19.96,.462)(20.8,.462)(21.05,.462)(21.3,.462)(21.4,.462)(21.92,.462)(22.15,.462)(22.39,.462)(22.6,.462)(22.85,.462)(23.04,.462)(23.97,.462)(24.2,.462)(24.45,.462)(24.7,.462)(24.95,.462)(25.08,.462)(25.37,.462)(25.65,.462)(26.3,.462)(26.6,.462)(26.85,.462)(27.15,.462)(28.36,.462)(28.6,.462)(28.85,.462)(29.1,.462)(29.25,.462)(30.69,.462)(30.95,.462)(31.3,.462)(32.15,.462)(33.2,.462)(33.4,.462)(33.77,.462)};
\addplot[pts] coordinates {(17.72,.423)(18.19,.423)(18.3,.423)(18.94,.423)(19.31,.423)(19.55,.423)(19.8,.423)(19.96,.423)(20.34,.423)(20.8,.423)(21.05,.423)(21.3,.423)(21.45,.423)(21.73,.423)(21.95,.423)(22.1,.423)(22.6,.423)(22.85,.423)(23.04,.423)(23.35,.423)(23.53,.423)(23.97,.423)(24.2,.423)(24.45,.423)(24.65,.423)(24.85,.423)(25.07,.423)(25.3,.423)(25.55,.423)(25.8,.423)(25.93,.423)(26.6,.423)(26.85,.423)(27.15,.423)(27.52,.423)(28.36,.423)(28.6,.423)(28.85,.423)(29.1,.423)(29.2,.423)(29.48,.423)(30.69,.423)(30.95,.423)(31.16,.423)(32.15,.423)(33.2,.423)(33.77,.423)};
\addplot[pts] coordinates {(18.19,.385)(18.3,.385)(19.31,.385)(19.55,.385)(19.8,.385)(20.05,.385)(20.34,.385)(20.8,.385)(21.05,.385)(21.3,.385)(21.45,.385)(21.92,.385)(22.15,.385)(22.39,.385)(22.6,.385)(22.85,.385)(23.04,.385)(23.35,.385)(23.53,.385)(23.97,.385)(24.2,.385)(24.45,.385)(24.65,.385)(24.85,.385)(25.07,.385)(25.3,.385)(25.55,.385)(25.93,.385)(26.15,.385)(26.3,.385)(26.6,.385)(26.85,.385)(27.15,.385)(28.36,.385)(28.6,.385)(28.85,.385)(29.1,.385)(29.2,.385)(30.13,.385)(30.69,.385)(30.95,.385)(31.25,.385)(32.15,.385)(32.56,.385)(33.2,.385)(33.45,.385)(33.65,.385)(33.86,.385)};
\addplot[pts] coordinates {(18.19,.346)(18.3,.346)(19.31,.346)(19.55,.346)(19.8,.346)(20.05,.346)(20.8,.346)(21.05,.346)(21.3,.346)(21.45,.346)(21.92,.346)(22.2,.346)(22.6,.346)(22.85,.346)(23.04,.346)(23.35,.346)(23.53,.346)(23.97,.346)(24.2,.346)(24.45,.346)(24.7,.346)(24.91,.346)(25.3,.346)(25.56,.346)(25.93,.346)(26.15,.346)(26.68,.346)(26.95,.346)(27.2,.346)(27.52,.346)(28.36,.346)(28.6,.346)(28.85,.346)(29.1,.346)(29.3,.346)(29.57,.346)(30.32,.346)(30.69,.346)(30.95,.346)(31.25,.346)(32.15,.346)(32.56,.346)(32.75,.346)(32.93,.346)(33.2,.346)(33.45,.346)(33.65,.346)(33.86,.346)};
\addplot[pts] coordinates {(17.22,.308)(18.19,.308)(18.3,.308)(19.31,.308)(19.55,.308)(19.8,.308)(20.05,.308)(20.8,.308)(21.05,.308)(21.3,.308)(21.45,.308)(21.73,.308)(22.39,.308)(22.6,.308)(22.85,.308)(23.04,.308)(23.97,.308)(24.2,.308)(24.45,.308)(24.7,.308)(24.91,.308)(25.37,.308)(25.56,.308)(25.93,.308)(26.6,.308)(26.85,.308)(27.15,.308)(27.52,.308)(28.36,.308)(28.6,.308)(28.85,.308)(29.1,.308)(29.2,.308)(30.69,.308)(30.95,.308)(31.25,.308)(32.15,.308)(32.56,.308)(32.75,.308)(32.93,.308)(33.2,.308)(33.45,.308)(33.65,.308)(33.86,.308)};
\addplot[pts] coordinates {(19.4,.269)(19.65,.269)(19.9,.269)(20.05,.269)(20.34,.269)(20.6,.269)(20.8,.269)(21.27,.269)(21.73,.269)(22.57,.269)(22.8,.269)(23.04,.269)(23.97,.269)(24.2,.269)(24.4,.269)(24.81,.269)(25.05,.269)(25.3,.269)(25.56,.269)(25.93,.269)(26.15,.269)(26.4,.269)(26.68,.269)(27.05,.269)(27.15,.269)(28.36,.269)(28.6,.269)(28.85,.269)(29.1,.269)(29.2,.269)(30.69,.269)(30.95,.269)(31.25,.269)(32.1,.269)(32.2,.269)(32.84,.269)(33.3,.269)(33.55,.269)(33.86,.269)};
\addplot[pts] coordinates {(20.8,.231)(21.05,.231)(21.3,.231)(21.4,.231)(21.73,.231)(22.76,.231)(23.04,.231)(23.97,.231)(24.2,.231)(24.4,.231)(24.81,.231)(25.0,.231)(25.37,.231)(25.93,.231)(26.68,.231)(26.95,.231)(27.2,.231)(27.52,.231)(28.36,.231)(28.6,.231)(28.85,.231)(29.1,.231)(29.94,.231)(30.97,.231)(31.16,.231)(32.15,.231)(32.71,.231)(33.2,.231)(33.5,.231)(33.86,.231)};
\addplot[pts] coordinates {(20.8,.192)(21.18,.192)(21.4,.192)(21.73,.192)(22.39,.192)(22.95,.192)(24.5,.192)(24.7,.192)(24.9,.192)(25.0,.192)(25.71,.192)(26.68,.192)(26.95,.192)(27.15,.192)(28.36,.192)(28.92,.192)(29.1,.192)(30.88,.192)(31.16,.192)(33.02,.192)(33.86,.192)};
\addplot[pts] coordinates {(21.27,.154)(24.5,.154)(24.87,.154)(28.36,.154)(30.32,.154)(30.88,.154)(28.36,.115)(28.6,.115)(28.85,.115)(29.63,.115)(30.37,.115)(30.88,.115)(31.05,.115)(28.23,.077)(30.88,.077)(31.05,.077)(28.36,.038)};
\addplot[ciband] coordinates {(17.22,.542)(18.38,.515)(19.31,.491)(20.24,.468)(21.18,.447)(22.11,.435)(23.04,.427)(23.97,.423)(24.91,.421)(25.84,.420)(26.77,.420)(27.71,.420)(28.64,.420)(29.57,.421)(30.5,.424)(31.44,.431)(32.37,.440)(33.3,.450)(33.86,.457)(33.86,.436)(33.86,.415)(33.3,.414)(32.37,.414)(31.44,.411)(30.5,.408)(29.57,.407)(28.64,.406)(27.71,.406)(26.77,.406)(25.84,.406)(24.91,.407)(23.97,.409)(23.04,.413)(22.11,.419)(21.18,.429)(20.24,.444)(19.31,.457)(18.38,.467)(17.22,.476)(17.22,.509)};
\addplot[fit] coordinates {(17.22,.509)(18.38,.491)(19.31,.474)(20.24,.456)(21.18,.438)(22.11,.427)(23.04,.420)(23.97,.416)(24.91,.414)(25.84,.413)(26.77,.413)(27.71,.413)(28.64,.413)(29.57,.414)(30.5,.416)(31.44,.421)(32.37,.427)(33.3,.432)(33.86,.436)};
\end{axis}

% ---------------- TT ----------------
\begin{axis}[panel, at={(805pt,118pt)}, width=326.7pt, height=240.3pt,
  xmin=2.0068, xmax=2.6443, ymin=0.0027, ymax=0.8494,
  xtick={2.2,2.4,2.6}, xticklabels={2.2,2.4,2.6},
  ytick={0.2,0.4,0.6,0.8}, yticklabels={0.2,0.4,0.6,0.8},
  xlabel={TT (SH)}]
\addplot[pts] coordinates {(2.205,.808)(2.087,.769)(2.140,.769)(2.148,.769)(2.155,.769)(2.070,.731)(2.126,.731)(2.143,.731)(2.148,.731)(2.202,.731)};
\addplot[pts] coordinates {(2.087,.692)(2.126,.692)(2.140,.692)(2.150,.692)(2.160,.692)(2.163,.692)(2.182,.692)(2.189,.692)(2.202,.692)(2.251,.692)(2.290,.692)(2.300,.692)(2.324,.692)};
\addplot[pts] coordinates {(2.087,.654)(2.140,.654)(2.150,.654)(2.160,.654)(2.163,.654)(2.180,.654)(2.189,.654)(2.200,.654)(2.210,.654)(2.220,.654)(2.254,.654)(2.290,.654)(2.300,.654)(2.324,.654)(2.365,.654)(2.437,.654)};
\addplot[pts] coordinates {(2.087,.615)(2.122,.615)(2.137,.615)(2.147,.615)(2.157,.615)(2.161,.615)(2.180,.615)(2.190,.615)(2.199,.615)(2.208,.615)(2.218,.615)(2.225,.615)(2.251,.615)(2.261,.615)(2.290,.615)(2.300,.615)(2.309,.615)(2.318,.615)(2.325,.615)(2.365,.615)};
\addplot[pts] coordinates {(2.082,.577)(2.089,.577)(2.108,.577)(2.121,.577)(2.131,.577)(2.141,.577)(2.151,.577)(2.161,.577)(2.171,.577)(2.181,.577)(2.191,.577)(2.200,.577)(2.210,.577)(2.220,.577)(2.248,.577)(2.287,.577)(2.297,.577)(2.307,.577)(2.317,.577)(2.326,.577)(2.417,.577)(2.437,.577)};
\addplot[pts] coordinates {(2.082,.538)(2.091,.538)(2.121,.538)(2.131,.538)(2.141,.538)(2.151,.538)(2.161,.538)(2.171,.538)(2.181,.538)(2.191,.538)(2.200,.538)(2.210,.538)(2.220,.538)(2.228,.538)(2.251,.538)(2.258,.538)(2.287,.538)(2.297,.538)(2.307,.538)(2.317,.538)(2.326,.538)(2.417,.538)(2.420,.538)(2.433,.538)(2.440,.538)};
\addplot[pts] coordinates {(2.070,.500)(2.087,.500)(2.091,.500)(2.108,.500)(2.121,.500)(2.131,.500)(2.141,.500)(2.151,.500)(2.161,.500)(2.171,.500)(2.181,.500)(2.191,.500)(2.201,.500)(2.211,.500)(2.221,.500)(2.231,.500)(2.241,.500)(2.251,.500)(2.261,.500)(2.270,.500)(2.287,.500)(2.297,.500)(2.307,.500)(2.317,.500)(2.326,.500)(2.363,.500)(2.417,.500)(2.437,.500)(2.573,.500)(2.579,.500)};
\addplot[pts] coordinates {(2.070,.462)(2.085,.462)(2.091,.462)(2.108,.462)(2.121,.462)(2.131,.462)(2.141,.462)(2.151,.462)(2.161,.462)(2.171,.462)(2.181,.462)(2.191,.462)(2.201,.462)(2.211,.462)(2.221,.462)(2.231,.462)(2.241,.462)(2.251,.462)(2.261,.462)(2.271,.462)(2.287,.462)(2.297,.462)(2.307,.462)(2.317,.462)(2.326,.462)(2.417,.462)(2.437,.462)(2.440,.462)(2.573,.462)(2.579,.462)};
\addplot[pts] coordinates {(2.085,.423)(2.091,.423)(2.108,.423)(2.121,.423)(2.131,.423)(2.141,.423)(2.151,.423)(2.161,.423)(2.171,.423)(2.181,.423)(2.191,.423)(2.201,.423)(2.211,.423)(2.221,.423)(2.231,.423)(2.241,.423)(2.251,.423)(2.261,.423)(2.271,.423)(2.287,.423)(2.297,.423)(2.307,.423)(2.317,.423)(2.326,.423)(2.358,.423)(2.365,.423)(2.417,.423)(2.437,.423)(2.440,.423)(2.577,.423)};
\addplot[pts] coordinates {(2.039,.385)(2.046,.385)(2.085,.385)(2.091,.385)(2.108,.385)(2.121,.385)(2.131,.385)(2.141,.385)(2.151,.385)(2.161,.385)(2.171,.385)(2.181,.385)(2.191,.385)(2.201,.385)(2.211,.385)(2.221,.385)(2.231,.385)(2.241,.385)(2.251,.385)(2.261,.385)(2.271,.385)(2.287,.385)(2.297,.385)(2.307,.385)(2.317,.385)(2.326,.385)(2.365,.385)(2.417,.385)(2.437,.385)(2.576,.385)(2.579,.385)};
\addplot[pts] coordinates {(2.039,.346)(2.046,.346)(2.085,.346)(2.091,.346)(2.108,.346)(2.121,.346)(2.131,.346)(2.141,.346)(2.151,.346)(2.161,.346)(2.171,.346)(2.181,.346)(2.191,.346)(2.201,.346)(2.211,.346)(2.221,.346)(2.231,.346)(2.241,.346)(2.251,.346)(2.287,.346)(2.297,.346)(2.307,.346)(2.317,.346)(2.326,.346)(2.365,.346)(2.417,.346)(2.437,.346)(2.576,.346)};
\addplot[pts] coordinates {(2.044,.308)(2.085,.308)(2.091,.308)(2.108,.308)(2.121,.308)(2.131,.308)(2.141,.308)(2.151,.308)(2.161,.308)(2.171,.308)(2.181,.308)(2.191,.308)(2.201,.308)(2.211,.308)(2.221,.308)(2.231,.308)(2.241,.308)(2.251,.308)(2.261,.308)(2.271,.308)(2.287,.308)(2.297,.308)(2.307,.308)(2.317,.308)(2.326,.308)(2.358,.308)(2.365,.308)(2.417,.308)(2.437,.308)(2.576,.308)};
\addplot[pts] coordinates {(2.044,.269)(2.088,.269)(2.108,.269)(2.121,.269)(2.131,.269)(2.141,.269)(2.151,.269)(2.161,.269)(2.171,.269)(2.181,.269)(2.191,.269)(2.201,.269)(2.211,.269)(2.221,.269)(2.231,.269)(2.241,.269)(2.251,.269)(2.261,.269)(2.271,.269)(2.290,.269)(2.300,.269)(2.310,.269)(2.320,.269)(2.326,.269)(2.345,.269)(2.365,.269)(2.417,.269)(2.436,.269)(2.440,.269)(2.576,.269)};
\addplot[pts] coordinates {(2.041,.231)(2.124,.231)(2.134,.231)(2.143,.231)(2.170,.231)(2.180,.231)(2.199,.231)(2.209,.231)(2.219,.231)(2.224,.231)(2.244,.231)(2.254,.231)(2.261,.231)(2.270,.231)(2.290,.231)(2.300,.231)(2.310,.231)(2.321,.231)(2.359,.231)(2.417,.231)(2.437,.231)(2.576,.231)};
\addplot[pts] coordinates {(2.121,.192)(2.131,.192)(2.141,.192)(2.147,.192)(2.169,.192)(2.179,.192)(2.205,.192)(2.254,.192)(2.274,.192)(2.290,.192)(2.300,.192)(2.310,.192)(2.313,.192)(2.417,.192)(2.437,.192)(2.576,.192)(2.594,.192)(2.618,.192)};
\addplot[pts] coordinates {(2.129,.154)(2.309,.154)(2.319,.154)(2.329,.154)(2.437,.154)(2.576,.154)(2.326,.115)(2.335,.115)(2.437,.115)(2.458,.115)(2.488,.115)(2.319,.077)(2.439,.077)(2.437,.038)};
\addplot[ciband] coordinates {(2.0393,.454)(2.0816,.453)(2.1141,.452)(2.1467,.451)(2.1792,.450)(2.2117,.448)(2.2442,.443)(2.2767,.436)(2.3093,.427)(2.3418,.418)(2.3743,.409)(2.4068,.401)(2.4393,.392)(2.4719,.383)(2.5044,.375)(2.5369,.368)(2.5694,.361)(2.602,.356)(2.6182,.354)(2.6182,.314)(2.6182,.274)(2.602,.282)(2.5694,.295)(2.5369,.310)(2.5044,.325)(2.4719,.341)(2.4393,.356)(2.4068,.371)(2.3743,.383)(2.3418,.396)(2.3093,.407)(2.2767,.418)(2.2442,.427)(2.2117,.432)(2.1792,.434)(2.1467,.433)(2.1141,.428)(2.0816,.417)(2.0393,.400)(2.0393,.427)};
\addplot[fit] coordinates {(2.0393,.427)(2.0816,.435)(2.1141,.440)(2.1467,.442)(2.1792,.442)(2.2117,.440)(2.2442,.435)(2.2767,.427)(2.3093,.417)(2.3418,.407)(2.3743,.396)(2.4068,.386)(2.4393,.374)(2.4719,.362)(2.5044,.350)(2.5369,.339)(2.5694,.328)(2.602,.319)(2.6182,.314)};
\end{axis}

% ---------------- caption ----------------
\node[anchor=base west, inner sep=0pt, font=\capfont\fontsize{20.5}{25}\selectfont] at (35pt,48pt)
  {\makebox[1093pt][s]{\textbf{Figure 6.} Relationship between the CRP indicators and the ratio of coexceedances of the constituent stocks in the Shanghai stock}};
\node[anchor=base west, inner sep=0pt, font=\capfont\fontsize{20.5}{25}\selectfont] at (35pt,23pt)
  {market in 2015.};
\end{tikzpicture}
\end{document}
